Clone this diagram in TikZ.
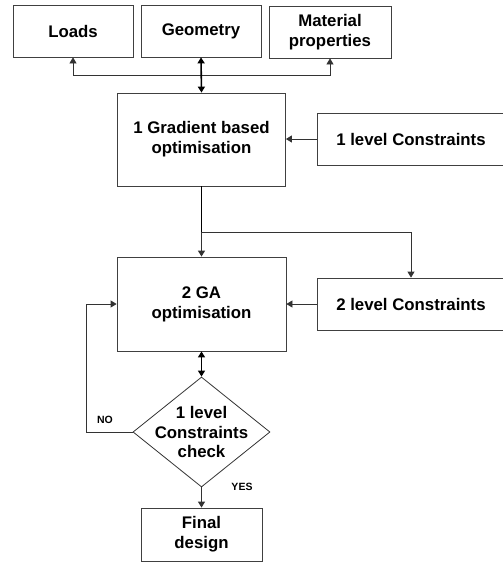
\documentclass[tikz,border=0pt]{standalone}
\usepackage{fontspec}
\setmainfont{Liberation Sans}
\usetikzlibrary{arrows.meta,shapes.geometric}
\tikzset{
  tip/.tip={Triangle[length=6pt,width=7pt]},
  box/.style={draw=black!75, line width=0.8pt, rectangle, inner sep=0pt, align=center,
    font=\fontsize{16.8pt}{20pt}\selectfont\bfseries},
  arr/.style={draw=black!80, line width=0.8pt, -tip},
  darr/.style={draw=black, line width=1.6pt, tip-tip},
  thk/.style={draw=black, line width=1.8pt},
  lbl/.style={font=\fontsize{10.5pt}{12pt}\selectfont\bfseries, inner sep=0pt},
  txt/.style={align=center, inner sep=0pt, font=\fontsize{16.8pt}{19.5pt}\selectfont\bfseries}
}
\begin{document}
\begin{tikzpicture}[x=1pt,y=-1pt]
\useasboundingbox (0,0) rectangle (503,562);
\node[box, minimum width=120pt, minimum height=52pt] (loads) at (73,31) {Loads};
\node[box, minimum width=120pt, minimum height=52pt] (geo) at (201,31) {\raisebox{2pt}{Geometry}};
\node[box, minimum width=122pt, minimum height=52pt] (mat) at (330,32) {Material\\properties};
\node[box, minimum width=168pt, minimum height=93pt] (grad) at (201.5,139.5) {1 Gradient based\\optimisation};
\node[box, minimum width=188pt, minimum height=52pt] (c1) at (411,139) {1 level Constraints};
\node[box, minimum width=169pt, minimum height=94pt] (ga) at (201.5,304) {2 GA\\optimisation};
\node[box, minimum width=188pt, minimum height=52pt] (c2) at (411,304) {2 level Constraints};
\node[diamond, draw=black!80, line width=0.8pt, inner sep=0pt, minimum width=137pt, minimum height=110pt] (dia) at (201.5,432) {};
\node[txt] (diatext) at (dia.center) {1 level\\Constraints\\check};
\node[box, minimum width=121pt, minimum height=53pt] (fin) at (201.5,534.5) {Final\\design};

% top connectors
\coordinate (j) at (201.5,75);
\draw[arr] (j) -| (loads.south);
\draw[arr] (j) -| (mat.south);
\draw[darr] (geo.south) -- (grad.north);
\draw[arr] (c1.west) -- (c1.west -| grad.east);

% gradient to GA and level-2 constraints
\coordinate (k) at (201.5,232);
\draw[thk] (grad.south) -- (k);
\draw[arr, line width=1.3pt] (k) -- (ga.north);
\draw[arr] (k) -| (c2.north);
\draw[arr] (c2.west) -- (c2.west -| ga.east);

% GA and check
\draw[darr, line width=1.3pt] (ga.south) -- (dia.north);
\coordinate (nl) at (86,432);
\draw[arr] (dia.west) -- (nl) |- (ga.west);
\draw[arr, line width=1.1pt] (dia.south) -- (fin.north);

\node[lbl] (no) at (105,420) {NO};
\node[lbl] (yes) at (242,487) {YES};
\end{tikzpicture}
\end{document}
